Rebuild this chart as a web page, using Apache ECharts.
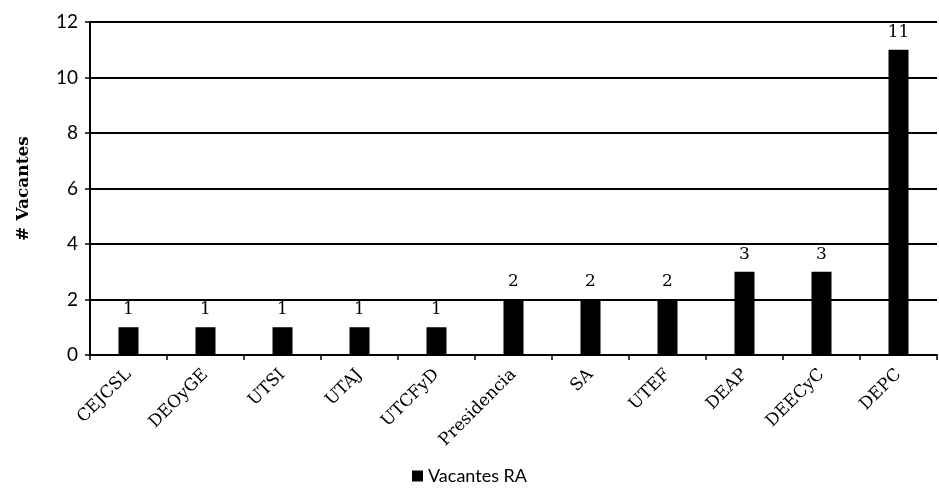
<!DOCTYPE html>
<html><head><meta charset="utf-8">
<script src="https://cdn.jsdelivr.net/npm/echarts@6/dist/echarts.min.js"></script>
<style>html,body{margin:0;padding:0;background:#fff}#c{width:939px;height:493px}</style>
</head><body><div id="c"></div>
<script>
const categories = ['CEJCSL','DEOyGE','UTSI','UTAJ','UTCFyD','Presidencia','SA','UTEF','DEAP','DEECyC','DEPC'];
const vacantesRA = [1,1,1,1,1,2,2,2,3,3,11];
const yTicks = {min:0, max:12, interval:2};

const chart = echarts.init(document.getElementById('c'));
chart.setOption({
  animation:false,
  backgroundColor:'#fff',
  grid:{left:90, right:2, top:22, bottom:138},
  legend:{bottom:3, left:'center', itemWidth:11, itemHeight:11, icon:'rect', itemGap:5,
    textStyle:{fontFamily:'Lato, sans-serif', fontSize:18, color:'#000'},
    data:['Vacantes RA']},
  xAxis:{type:'category', data:categories,
    axisLine:{lineStyle:{color:'#000', width:2}},
    axisTick:{show:true, alignWithLabel:false, length:5, lineStyle:{color:'#000', width:1.5}},
    axisLabel:{rotate:45, interval:0, margin:17, fontFamily:'DejaVu Serif', fontSize:17, color:'#000'}},
  yAxis:{type:'value', min:yTicks.min, max:yTicks.max, interval:yTicks.interval,
    name:'# Vacantes', nameLocation:'middle', nameGap:58,
    nameTextStyle:{fontFamily:'DejaVu Serif', fontWeight:'bold', fontSize:17, color:'#000'},
    axisLine:{show:true, lineStyle:{color:'#000', width:2}},
    axisTick:{show:true, length:5, lineStyle:{color:'#000', width:1.5}},
    axisLabel:{fontFamily:'Lato, sans-serif', fontSize:19, color:'#000', margin:12},
    splitLine:{lineStyle:{color:'#000', width:2}}},
  series:[{name:'Vacantes RA', type:'bar', data:vacantesRA, barWidth:20,
    itemStyle:{color:'#000'},
    label:{show:true, position:'top', distance:9, fontFamily:'DejaVu Serif', fontSize:17, color:'#000'}}]
});
</script></body></html>
